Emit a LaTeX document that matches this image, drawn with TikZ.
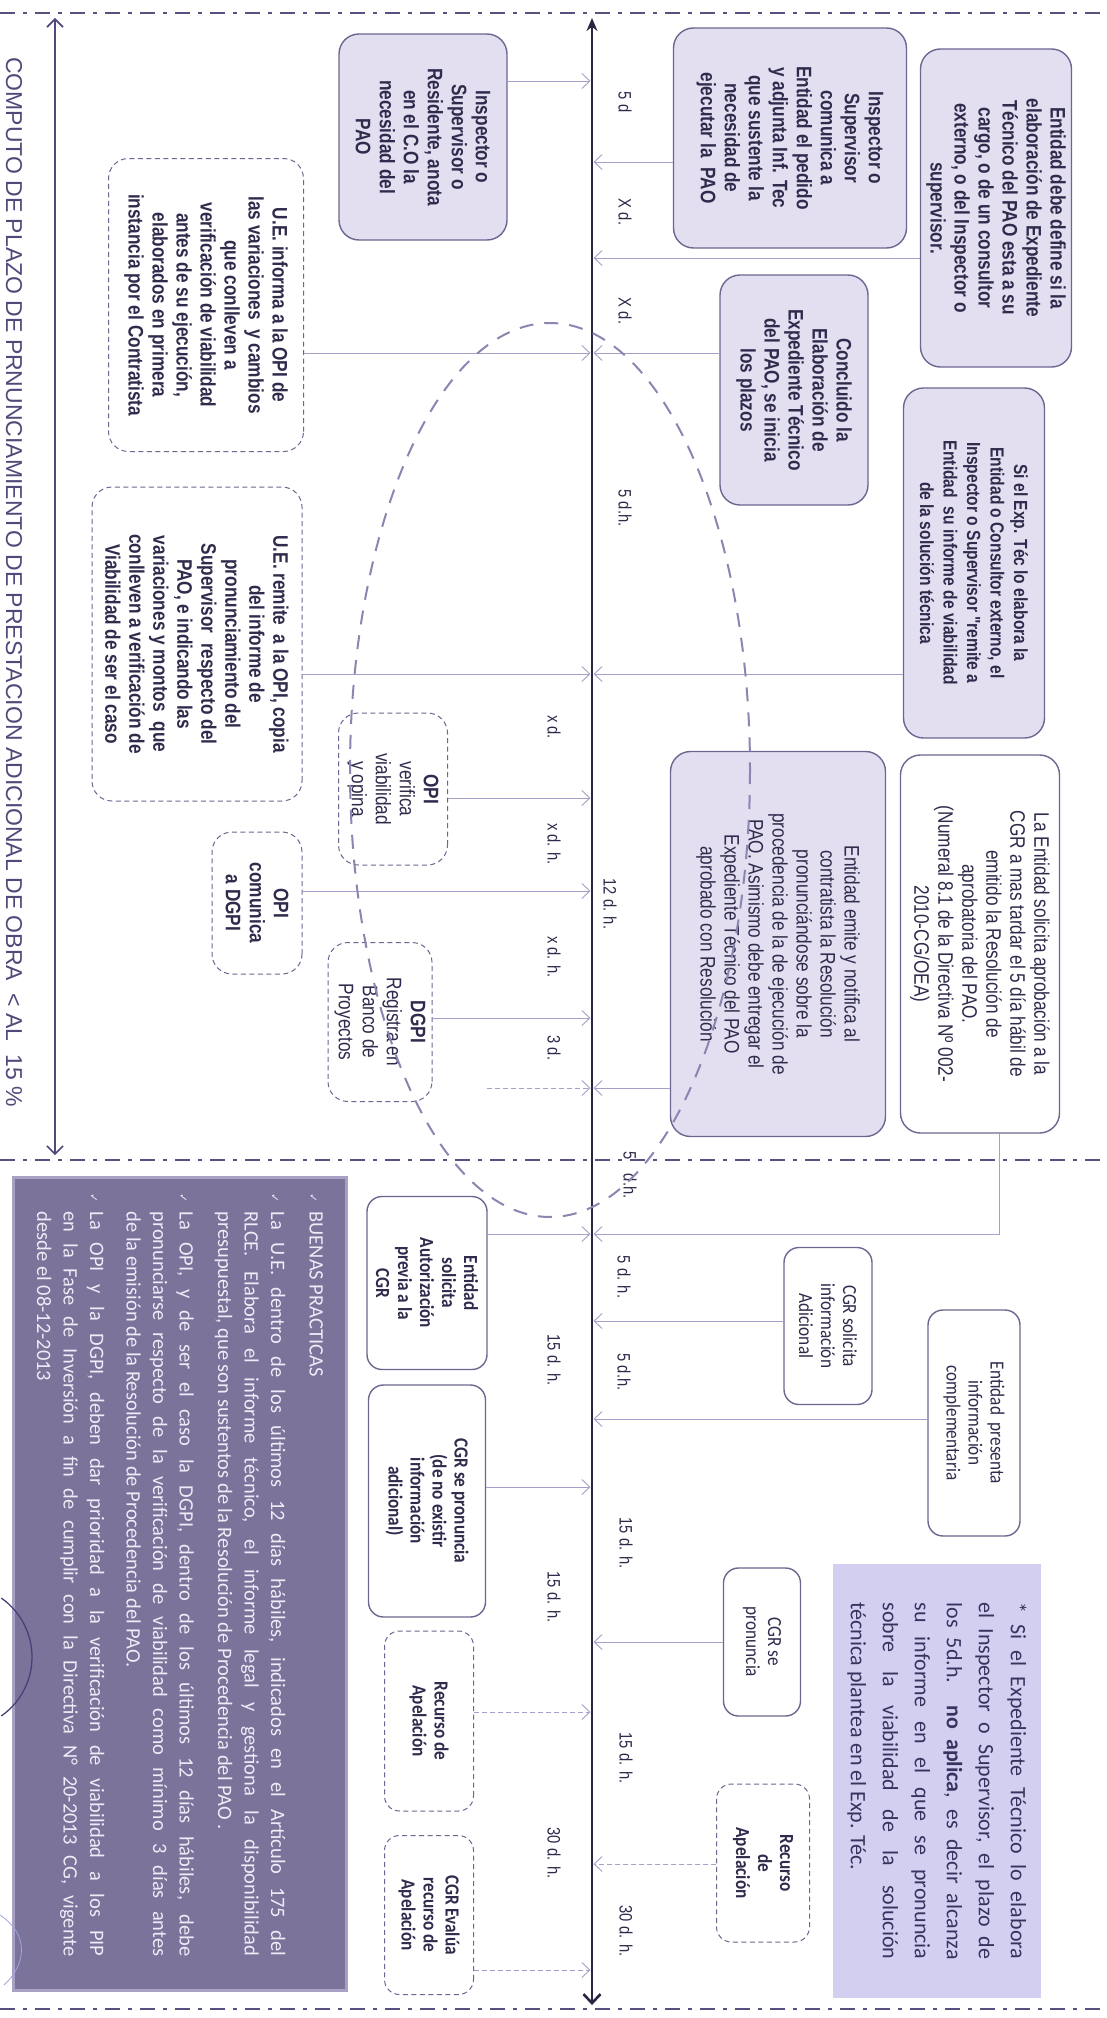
\documentclass[tikz,border=0pt]{standalone}
\usepackage{fontspec}
\setmainfont{Liberation Sans}
\newfontfamily\narrowfont[FakeStretch=0.82]{Liberation Sans}
\newfontfamily\calfont{Carlito}
\newfontfamily\calnarrow[FakeStretch=0.86]{Carlito}
\newfontfamily\symfont{DejaVu Sans}
\usetikzlibrary{arrows.meta}

\definecolor{boxfill}{HTML}{E4DEF1}
\definecolor{boxline}{HTML}{6C6790}
\definecolor{inkc}{HTML}{2F2B4C}
\definecolor{linkc}{HTML}{A3A0CA}
\definecolor{axisc}{HTML}{2B2542}
\definecolor{titlec}{HTML}{4F4A7A}
\definecolor{framec}{HTML}{56517E}
\definecolor{ellc}{HTML}{8A86B2}
\definecolor{bpfill}{HTML}{7B7399}
\definecolor{bpedge}{HTML}{A9A1C4}
\definecolor{bptext}{HTML}{EEEAF7}
\definecolor{notefill}{HTML}{D3CFF1}
\definecolor{notetext}{HTML}{37325E}
\definecolor{stampc}{HTML}{4A3F78}
\definecolor{inkblue}{HTML}{9FA6E0}

\begin{document}
\begin{tikzpicture}[x=1pt, y=-1pt,
    box/.style = {rotate=-90, align=center, text=inkc, draw=boxline, line width=1.4pt,
                  rounded corners=20pt, inner sep=3pt,
                  font=\narrowfont\bfseries\fontsize{21}{24}\selectfont},
    lilac box/.style = {box, fill=boxfill},
    white box/.style = {box, fill=white},
    dash box/.style = {box, fill=white, line width=1pt, dash pattern=on 5pt off 3.5pt},
    plain text/.style = {font=\narrowfont\fontsize{21}{24}\selectfont},
    cal box/.style = {rounded corners=15pt, font=\calnarrow\bfseries\fontsize{20}{22}\selectfont},
    cal plain/.style = {rounded corners=15pt, font=\calnarrow\fontsize{20}{22}\selectfont},
    link/.style = {draw=linkc, line width=0.9pt, -{Straight Barb[length=8pt,width=15pt]}, shorten >=1.5pt},
    dash link/.style = {link, dash pattern=on 5pt off 3pt},
    days/.style = {rotate=-90, text=inkc, font=\narrowfont\fontsize{18}{20}\selectfont},
    frame line/.style = {draw=framec, line width=2.6pt, dash pattern=on 15pt off 8pt on 4pt off 8pt}]

    \fill[white] (0,0) rectangle (1107,2018);
    \useasboundingbox (0,0) rectangle (1107,2018);

    % the frame
    \draw[frame line] (0,13) -- (1107,13);
    \draw[frame line] (0,1160) -- (1107,1160);
    \draw[frame line] (0,2009) -- (1107,2009);

    % the title
    \coordinate (title top) at (55,18);
    \coordinate (title bottom) at (55,1155);
    \draw[titlec, line width=1.6pt, {Straight Barb[length=8pt,width=16pt]}-{Straight Barb[length=8pt,width=16pt]}] (title top) -- (title bottom);
    \node (title) [rotate=-90, text=titlec, font=\fontsize{23}{26}\selectfont] at (14,582)
        {COMPUTO DE PLAZO DE PRNUNCIAMIENTO DE PRESTACION ADICIONAL DE OBRA\ \ {<} AL\ \ 15 \%};

    % the time axis
    \coordinate (axis top) at (592,18);
    \coordinate (axis bottom) at (592,2005);
    \draw[axisc, line width=2.6pt, {Stealth[length=13pt,width=11pt]}-{Straight Barb[length=9pt,width=17pt]}] (axis top) -- (axis bottom);
    \foreach \n/\y in {a/81, b/162, c/258, d/353, e/674, f/798, g/891, h/1018, i/1088,
                       j/1234, k/1321, l/1419, m/1487, n/1642, o/1712, p/1864, q/1970}
        \coordinate (t\n) at (592,\y);

    % the nodes, upper part
    \node (residente) [lilac box, minimum width=206pt, minimum height=168pt] at (423,137)
        {Inspector o\\Supervisor o\\Residente, anota\\en el C.O la\\necesidad del\\PAO};
    \node (comunica) [lilac box, minimum width=220pt, minimum height=233pt] at (790,138)
        {Inspector o\\Supervisor\\comunica a\\Entidad el pedido\\y adjunta Inf. Tec\\que sustente la\\necesidad de\\ejecutar la\ \ PAO};
    \node (define) [lilac box, minimum width=318pt, minimum height=151pt] at (996,208)
        {Entidad debe define si la\\elaboración de Expediente\\Técnico del PAO esta a su\\cargo, o de un consultor\\externo, o del Inspector o\\supervisor.};
    \node (concluido) [lilac box, minimum width=230pt, minimum height=148pt] at (794,390)
        {Concluido la\\Elaboración de\\Expediente Técnico\\del PAO, se inicia\\los plazos};
    \node (remite viab) [lilac box, minimum width=350pt, minimum height=141pt,
                         font=\narrowfont\bfseries\fontsize{19}{23.5}\selectfont] at (974,563)
        {Si el Exp. Téc lo elabora la\\Entidad o Consultor externo, el\\Inspector o Supervisor "remite a\\Entidad\ \ su informe de viabilidad\\de la solución técnica};
    \node (solicita cgr) [white box, plain text, minimum width=378pt, minimum height=159pt] at (980,944)
        {La Entidad solicita aprobación a la\\CGR a mas tardar el 5 día hábil de\\emitido la Resolución de\\aprobatoria del PAO.\\(Numeral 8.1 de la Directiva Nº 002-\\2010-CG/OEA)};
    \node (emite) [lilac box, plain text, minimum width=385pt, minimum height=215pt] at (778,944)
        {Entidad emite y notifica al\\contratista la Resolución\\pronunciándose sobre la\\procedencia de la de ejecución de\\PAO. Asimismo debe entregar el\\Expediente Técnico del PAO\\aprobado con Resolución};
    \node (informa opi) [dash box, minimum width=293pt, minimum height=195pt] at (206,305)
        {U.E. informa a la OPI de\\las variaciones\ \ y cambios\\que conlleven a\\verificación de viabilidad\\antes de su ejecución,\\elaborados en primera\\instancia por el Contratista};
    \node (remite opi) [dash box, minimum width=314pt, minimum height=210pt] at (197,644)
        {U.E. remite\ \ a la OPI, copia\\del informe de\\pronunciamiento del\\Supervisor\ \ respecto del\\PAO, e indicando las\\variaciones y montos\ \ que\\conlleven a verificación de\\Viabilidad de ser el caso};
    \node (opi verifica) [dash box, plain text, minimum width=152pt, minimum height=109pt] at (393,789)
        {\textbf{OPI}\\verifica\\viabilidad\\y opina};
    \node (opi comunica) [dash box, minimum width=142pt, minimum height=90pt] at (257,903)
        {OPI\\comunica\\a DGPI};
    \node (dgpi) [dash box, plain text, minimum width=159pt, minimum height=104pt] at (380,1022)
        {\textbf{DGPI}\\Registra en\\Banco de\\Proyectos};

    % the nodes, lower part
    \node (autoriza) [white box, cal box, minimum width=173pt, minimum height=120pt] at (427,1283)
        {Entidad\\solicita\\Autorización\\previa a la\\CGR};
    \node (pronuncia previa) [white box, cal box, minimum width=232pt, minimum height=117pt] at (427,1501)
        {CGR se pronuncia\\(de no existir\\información\\adicional)};
    \node (apelacion izq) [dash box, cal box, minimum width=180pt, minimum height=89pt] at (429,1721)
        {Recurso de\\Apelación};
    \node (evalua) [dash box, cal box, minimum width=159pt, minimum height=89pt] at (429,1915)
        {CGR Evalúa\\recurso de\\Apelación};
    \node (solicita info) [white box, cal plain, minimum width=157pt, minimum height=88pt] at (828,1326)
        {CGR solicita\\información\\Adicional};
    \node (presenta) [white box, cal plain, minimum width=226pt, minimum height=92pt] at (974,1423)
        {Entidad\ \ presenta\\información\\complementaria};
    \node (pronuncia) [white box, cal plain, minimum width=148pt, minimum height=77pt] at (762,1642)
        {CGR se\\pronuncia};
    \node (apelacion der) [dash box, cal box, minimum width=158pt, minimum height=93pt] at (763,1863)
        {Recurso\\de\\Apelación};

    % the note and the good practices
    \node (nota) [rotate=-90, fill=notefill, minimum width=434pt, minimum height=208pt, inner sep=0pt,
                  text=notetext, align=left, font=\calfont\fontsize{22}{32}\selectfont] at (937,1781)
        {\makebox[357pt][s]{* Si el Expediente Técnico lo elabora}\\
         \makebox[357pt][s]{el Inspector o Supervisor, el plazo de}\\
         \makebox[357pt][s]{los 5d.h. \textbf{no aplica}, es decir alcanza}\\
         \makebox[357pt][s]{su informe en el que se pronuncia}\\
         \makebox[357pt][s]{sobre la viabilidad de la solución}\\
         técnica plantea en el Exp. Téc.};
    \node (buenas practicas) [rotate=-90, fill=bpfill, draw=bpedge, line width=3pt,
                  minimum width=813pt, minimum height=333pt, inner sep=0pt,
                  text=bptext, align=left, font=\calfont\fontsize{20.5}{26.5}\selectfont] at (180,1584)
        {\llap{{\symfont\fontsize{11}{11}\selectfont ✓}\ \ }BUENAS PRACTICAS\\[12pt]
         \llap{{\symfont\fontsize{11}{11}\selectfont ✓}\ \ }\makebox[745pt][s]{La U.E. dentro de los últimos 12 días hábiles, indicados en el Artículo 175 del}\\
         \makebox[745pt][s]{RLCE. Elabora el informe técnico, el informe legal y gestiona la disponibilidad}\\
         presupuestal, que son sustentos de la Resolución de Procedencia del PAO .\\[12pt]
         \llap{{\symfont\fontsize{11}{11}\selectfont ✓}\ \ }\makebox[745pt][s]{La OPI, y de ser el caso la DGPI, dentro de los últimos 12 días hábiles, debe}\\
         \makebox[745pt][s]{pronunciarse respecto de la verificación de viabilidad como mínimo 3 días antes}\\
         de la emisión de la Resolución de Procedencia del PAO.\\[10pt]
         \llap{{\symfont\fontsize{11}{11}\selectfont ✓}\ \ }\makebox[745pt][s]{La OPI y la DGPI, deben dar prioridad a la verificación de viabilidad a los PIP}\\
         \makebox[745pt][s]{en la Fase de Inversión a fin de cumplir con la Directiva N° 20-2013 CG, vigente}\\
         desde el 08-12-2013};

    % the day counts
    \foreach \txt/\x/\y [count=\i] in {5 d/625/102, X d./625/212, X d./625/311, 5 d.h./625/508,
                                       12 d. h./610/904, 5 d. h./624/1277, 5 d.h./624/1372,
                                       15 d. h./626/1543, 15 d. h./626/1758, 30 d. h./626/1931}
        \node (right day \i) [days] at (\x,\y) {\txt};
    \foreach \txt/\y [count=\i] in {x d./727, x d. h./844, x d. h./957, 3 d./1048,
                                    15 d. h./1360, 15 d. h./1597, 30 d. h./1853}
        \node (left day \i) [days] at (554,\y) {\txt};
    \node (middle day) [days] at (630,1175) {5\hspace{14pt}d.h.};

    % the arrows
    \coordinate (free stub) at (487,1088);
    \draw[link] (residente.north |- ta) -- (ta);
    \draw[link] (comunica.south |- tb) -- (tb);
    \draw[link] (define.south |- tc) -- (tc);
    \draw[link] (concluido.south |- td) -- (td);
    \draw[link] (informa opi.north |- td) -- (td);
    \draw[link] (remite viab.south |- te) -- (te);
    \draw[link] (remite opi.north |- te) -- (te);
    \draw[link] (opi verifica.north |- tf) -- (tf);
    \draw[link] (opi comunica.north |- tg) -- (tg);
    \draw[link] (dgpi.north |- th) -- (th);
    \draw[link] (emite.south |- ti) -- (ti);
    \draw[dash link] (free stub) -- (ti);
    \draw[link] ([xshift=19pt]solicita cgr.east) |- (tj);
    \draw[link] (autoriza.north |- tj) -- (tj);
    \draw[link] (solicita info.south |- tk) -- (tk);
    \draw[link] (presenta.south |- tl) -- (tl);
    \draw[link] (pronuncia previa.north |- tm) -- (tm);
    \draw[link] (pronuncia.south |- tn) -- (tn);
    \draw[dash link] (apelacion izq.north |- to) -- (to);
    \draw[dash link] (apelacion der.south |- tp) -- (tp);
    \draw[dash link] (evalua.north |- tq) -- (tq);

    % the dashed ellipse and the stamp marks
    \draw[ellc, line width=2pt, dash pattern=on 14pt off 11pt] (550,770) ellipse [x radius=200, y radius=447];
    \draw[stampc, line width=1.3pt] (-40,1657) ++(-55:72) arc [start angle=-55, end angle=55, radius=72];
    \draw[inkblue, line width=0.8pt] (0,1915) .. controls (30,1935) and (26,1965) .. (4,1985);
\end{tikzpicture}
\end{document}
